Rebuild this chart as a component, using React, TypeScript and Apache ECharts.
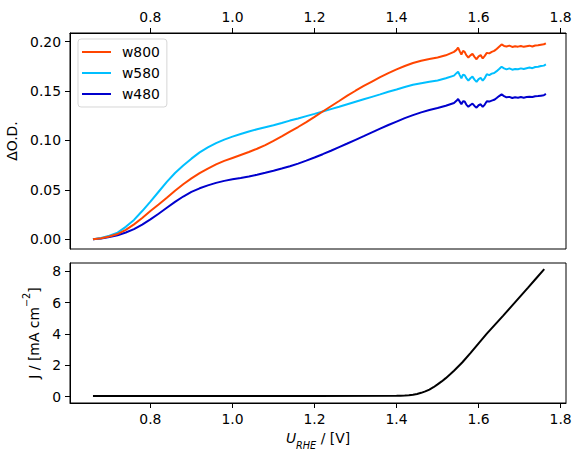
import React, { useEffect, useRef } from "react";
import * as echarts from "echarts";

// ---- data ----
const voltage = [
  0.66, 0.68, 0.70, 0.72, 0.74, 0.76, 0.78, 0.80, 0.82, 0.84,
  0.86, 0.88, 0.90, 0.92, 0.94, 0.96, 0.98, 1.00, 1.02, 1.04,
  1.06, 1.08, 1.10, 1.12, 1.14, 1.16, 1.18, 1.20, 1.22, 1.24,
  1.26, 1.28, 1.30, 1.32, 1.34, 1.36, 1.38, 1.40, 1.42, 1.44,
  1.46, 1.48, 1.50, 1.52, 1.54,
  1.546, 1.550, 1.554, 1.558, 1.562, 1.566, 1.570,
  1.575, 1.580, 1.585, 1.590, 1.595, 1.600, 1.605, 1.610, 1.615, 1.620,
  1.626, 1.632, 1.638, 1.644, 1.650, 1.656, 1.662, 1.668,
  1.675, 1.682, 1.689, 1.696, 1.703, 1.710, 1.717, 1.724, 1.731, 1.738, 1.745, 1.752, 1.759, 1.764,
];

const w800 = [
  0.000, 0.0010, 0.0028, 0.0052, 0.0095, 0.0150, 0.0215, 0.0285, 0.0352, 0.0420,
  0.0490, 0.0556, 0.0615, 0.0668, 0.0715, 0.0757, 0.0792, 0.0822, 0.0852, 0.0882,
  0.0915, 0.0952, 0.0995, 0.1040, 0.1088, 0.1135, 0.1185, 0.1238, 0.1292, 0.1345,
  0.1398, 0.1452, 0.1502, 0.1550, 0.1595, 0.1640, 0.1680, 0.1718, 0.1752, 0.1782,
  0.1805, 0.1822, 0.1838, 0.1860, 0.1895,
  0.1915, 0.1938, 0.1900, 0.1868, 0.1905, 0.1895, 0.1862,
  0.1838, 0.1860, 0.1875, 0.1845, 0.1820, 0.1850, 0.1862, 0.1828, 0.1855, 0.1885,
  0.1880, 0.1895, 0.1905, 0.1925, 0.1948, 0.1970, 0.1955, 0.1950,
  0.1958, 0.1945, 0.1952, 0.1948, 0.1955, 0.1946, 0.1952, 0.1958, 0.1950, 0.1960, 0.1962, 0.1968, 0.1972, 0.1982,
];

const w580 = [
  0.000, 0.0012, 0.0035, 0.0067, 0.0125, 0.0195, 0.0285, 0.0380, 0.0480, 0.0580,
  0.0670, 0.0745, 0.0815, 0.0878, 0.0928, 0.0972, 0.1008, 0.1038, 0.1065, 0.1090,
  0.1112, 0.1133, 0.1153, 0.1176, 0.1200, 0.1222, 0.1245, 0.1268, 0.1292, 0.1316,
  0.1340, 0.1365, 0.1390, 0.1415, 0.1440, 0.1465, 0.1492, 0.1515, 0.1540, 0.1562,
  0.1578, 0.1592, 0.1606, 0.1628, 0.1655,
  0.1680, 0.1695, 0.1660, 0.1628, 0.1665, 0.1660, 0.1630,
  0.1605, 0.1628, 0.1645, 0.1615, 0.1592, 0.1620, 0.1632, 0.1605, 0.1630, 0.1668,
  0.1660, 0.1675, 0.1682, 0.1700, 0.1722, 0.1745, 0.1728, 0.1718,
  0.1728, 0.1715, 0.1722, 0.1720, 0.1728, 0.1722, 0.1730, 0.1736, 0.1730, 0.1742, 0.1745, 0.1752, 0.1756, 0.1768,
];

const w480 = [
  0.000, 0.0008, 0.0022, 0.0040, 0.0068, 0.0102, 0.0148, 0.0200, 0.0258, 0.0318,
  0.0378, 0.0432, 0.0478, 0.0515, 0.0545, 0.0570, 0.0590, 0.0606, 0.0620, 0.0635,
  0.0652, 0.0672, 0.0693, 0.0715, 0.0738, 0.0765, 0.0795, 0.0827, 0.0860, 0.0895,
  0.0932, 0.0968, 0.1005, 0.1042, 0.1080, 0.1118, 0.1155, 0.1190, 0.1225, 0.1255,
  0.1283, 0.1307, 0.1328, 0.1350, 0.1378,
  0.1400, 0.1418, 0.1392, 0.1365, 0.1395, 0.1392, 0.1362,
  0.1340, 0.1358, 0.1372, 0.1348, 0.1330, 0.1355, 0.1365, 0.1338, 0.1362, 0.1395,
  0.1392, 0.1402, 0.1410, 0.1428, 0.1448, 0.1465, 0.1448, 0.1435,
  0.1440, 0.1428, 0.1436, 0.1432, 0.1438, 0.1432, 0.1438, 0.1442, 0.1438, 0.1446, 0.1448, 0.1452, 0.1456, 0.1470,
];

const jVoltage = [
  0.66, 0.80, 1.00, 1.20, 1.40, 1.41, 1.42, 1.43, 1.44, 1.45, 1.46, 1.47, 1.48, 1.49, 1.50, 1.51, 1.52, 1.53, 1.54,
  1.56, 1.58, 1.60, 1.62, 1.64, 1.66, 1.68, 1.70, 1.72, 1.74, 1.76,
];
const jValues = [
  0.03, 0.03, 0.03, 0.03, 0.05, 0.06, 0.07, 0.09, 0.12, 0.17, 0.24, 0.33, 0.45, 0.60, 0.78, 0.97, 1.18, 1.41, 1.65,
  2.18, 2.78, 3.40, 4.02, 4.60, 5.18, 5.77, 6.36, 6.95, 7.55, 8.15,
];

const seriesNames = ["w800", "w580", "w480"];
const xTicks = [0.8, 1.0, 1.2, 1.4, 1.6, 1.8];
const odTicks = [0, 0.05, 0.1, 0.15, 0.2];
const jTicks = [0, 2, 4, 6, 8];

const FONT = "DejaVu Sans";
const FS = 13.9;

export default function App() {
  const ref = useRef<HTMLDivElement>(null);

  useEffect(() => {
    if (!ref.current) return;
    const chart = echarts.init(ref.current, null, { renderer: "svg" });

    const labelStyle = (fmt: (v: number) => string, customValues: number[]) => ({
      customValues,
      formatter: (v: number) => fmt(v),
      color: "#000",
      fontSize: FS,
      fontFamily: FONT,
      margin: 9,
    });
    const tickStyle = (customValues: number[]) => ({
      show: true,
      customValues,
      length: 5,
      inside: false,
      lineStyle: { color: "#000", width: 1 },
    });
    const lineAxis = { show: true, onZero: false, lineStyle: { color: "#000", width: 1 } };

    const colors = ["#FF4500", "#00BFFF", "#0000CD"];
    const odData = [w800, w580, w480];

    const option: any = {
      animation: false,
      backgroundColor: "#fff",
      textStyle: { fontFamily: FONT },
      grid: [
        {
          left: 70, right: 15, top: 33, bottom: 210,
          show: true, borderColor: "#000", borderWidth: 1, backgroundColor: "transparent",
          containLabel: false, outerBoundsMode: "none",
        },
        {
          left: 70, right: 15, top: 263, bottom: 56,
          show: true, borderColor: "#000", borderWidth: 1, backgroundColor: "transparent",
          containLabel: false, outerBoundsMode: "none",
        },
      ],
      legend: {
        data: seriesNames,
        orient: "vertical",
        left: 78,
        top: 39,
        icon: "rect",
        itemWidth: 29,
        itemHeight: 2,
        itemGap: 7,
        padding: [6, 7, 6, 4],
        backgroundColor: "rgba(255,255,255,0.8)",
        borderColor: "rgba(204,204,204,0.8)",
        borderWidth: 1,
        borderRadius: 3,
        textStyle: { color: "#000", fontSize: FS, fontFamily: FONT, lineHeight: 14, padding: [0, 0, 0, 6] },
      },
      xAxis: [
        {
          type: "value", gridIndex: 0, position: "top",
          min: 0.604, max: 1.813,
          axisLine: lineAxis,
          axisTick: tickStyle(xTicks),
          axisLabel: labelStyle((v) => v.toFixed(1), xTicks),
          splitLine: { show: false },
        },
        {
          type: "value", gridIndex: 1, position: "bottom",
          min: 0.604, max: 1.813,
          axisLine: lineAxis,
          axisTick: tickStyle(xTicks),
          axisLabel: labelStyle((v) => v.toFixed(1), xTicks),
          splitLine: { show: false },
          name: "{i|U}{s|RHE}{n| / [V]}",
          nameLocation: "middle",
          nameGap: 28,
          nameTextStyle: {
            color: "#000",
            fontFamily: FONT,
            fontSize: FS,
            rich: {
              i: { fontStyle: "italic", fontSize: FS, fontFamily: FONT, color: "#000", lineHeight: 16, verticalAlign: "top" },
              s: { fontStyle: "italic", fontSize: 9.7, fontFamily: FONT, color: "#000", lineHeight: 10, padding: [9, 0, 0, 0], verticalAlign: "top" },
              n: { fontSize: FS, fontFamily: FONT, color: "#000", lineHeight: 16, verticalAlign: "top" },
            },
          },
        },
      ],
      yAxis: [
        {
          type: "value", gridIndex: 0,
          min: -0.0099, max: 0.2086,
          axisLine: lineAxis,
          axisTick: tickStyle(odTicks),
          axisLabel: labelStyle((v) => v.toFixed(2), odTicks),
          splitLine: { show: false },
          name: "ΔO.D.",
          nameLocation: "middle",
          nameGap: 44,
          nameTextStyle: { color: "#000", fontFamily: FONT, fontSize: FS },
        },
        {
          type: "value", gridIndex: 1,
          min: -0.41, max: 8.54,
          axisLine: lineAxis,
          axisTick: tickStyle(jTicks),
          axisLabel: labelStyle((v) => v.toFixed(0), jTicks),
          splitLine: { show: false },
          name: "{n|J / [mA cm}{p|−2}{n|]}",
          nameLocation: "middle",
          nameGap: 24,
          nameTextStyle: {
            color: "#000",
            fontFamily: FONT,
            fontSize: FS,
            rich: {
              n: { fontSize: FS, fontFamily: FONT, color: "#000", lineHeight: 20, verticalAlign: "bottom" },
              p: { fontSize: 9.7, fontFamily: FONT, color: "#000", lineHeight: 10, padding: [0, 0, 10, 0], verticalAlign: "bottom" },
            },
          },
        },
      ],
      series: [
        ...seriesNames.map((name, k) => ({
          type: "line",
          name,
          xAxisIndex: 0,
          yAxisIndex: 0,
          data: voltage.map((v, i) => [v, odData[k][i]]),
          symbol: "none",
          showSymbol: false,
          lineStyle: { color: colors[k], width: 2 },
          itemStyle: { color: colors[k] },
          z: 3 - k,
        })),
        {
          type: "line",
          name: "J",
          xAxisIndex: 1,
          yAxisIndex: 1,
          data: jVoltage.map((v, i) => [v, jValues[i]]),
          symbol: "none",
          showSymbol: false,
          lineStyle: { color: "#000", width: 2 },
          itemStyle: { color: "#000" },
        },
      ],
    };

    chart.setOption(option);
    return () => chart.dispose();
  }, []);

  return (
    <div
      ref={ref}
      style={{ position: "absolute", left: 0, top: 0, width: 581, height: 459, background: "#fff" }}
    />
  );
}
